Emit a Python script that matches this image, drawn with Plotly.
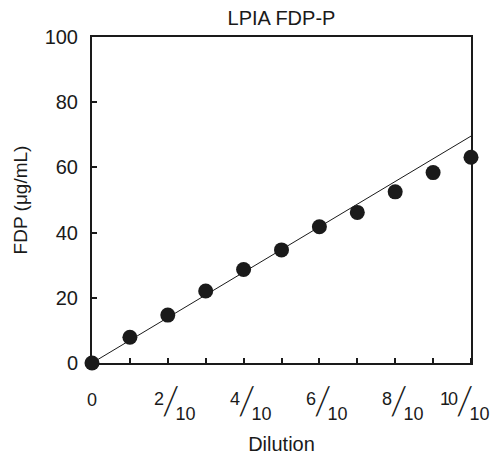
import plotly.graph_objects as go

x_vals = [0, 1, 2, 3, 4, 5, 6, 7, 8, 9, 10]
fdp_vals = [0, 7.9, 14.7, 22.1, 28.7, 34.7, 41.8, 46.2, 52.5, 58.4, 63.1]
fit_x = [0, 10]
fit_y = [0, 69.6]
x_tickvals = [0, 2, 4, 6, 8, 10]
x_numerators = ["0", "2", "4", "6", "8", "10"]
x_denominator = "10"
y_tickvals = [0, 20, 40, 60, 80, 100]

ink = "#1a1a1a"
fam = "Liberation Sans, Arial, sans-serif"

fig = go.Figure()
fig.add_trace(go.Scatter(x=fit_x, y=fit_y, mode="lines",
                         line=dict(color=ink, width=1), cliponaxis=False,
                         showlegend=False))
fig.add_trace(go.Scatter(x=x_vals, y=fdp_vals, mode="markers",
                         marker=dict(color=ink, size=15), cliponaxis=False,
                         showlegend=False))

def frac(num):
    return ("<sup><span style='font-size:18px;letter-spacing:-2px'>" + num + "</span></sup>"
            "<span style='font-family:Lato;font-weight:300;font-size:40px;letter-spacing:-4px'>/</span>"
            "<sub><span style='font-size:18px'>" + x_denominator + "</span></sub>")

anns = []
for tv, num in zip(x_tickvals, x_numerators):
    if num == "0":
        anns.append(dict(x=tv, y=0, xref="x", yref="paper", text=num, showarrow=False,
                         xanchor="center", yanchor="middle", yshift=-37,
                         font=dict(size=18, family=fam, color=ink)))
        continue
    xs = -7 if len(num) > 1 else 7
    anns.append(dict(x=tv, y=0, xref="x", yref="paper", text=frac(num), showarrow=False,
                     xanchor="center", yanchor="middle", xshift=xs, yshift=-37,
                     borderpad=0, font=dict(size=25, family=fam, color=ink)))

fig.update_layout(
    width=491, height=459,
    margin=dict(l=92, r=20, t=37, b=96),
    paper_bgcolor="white", plot_bgcolor="white",
    font=dict(size=18, family=fam, color=ink),
    annotations=anns,
    title=dict(text="LPIA FDP-P", x=(92 + 471) / 2 / 491, xanchor="center",
               y=1 - 18 / 459, yanchor="middle", font=dict(size=20, family=fam, color=ink)),
    xaxis=dict(range=[0, 10], tickvals=x_tickvals, showticklabels=False, automargin=False,
               showgrid=False, zeroline=False, showline=True, linecolor=ink,
               linewidth=2, mirror=True, ticks="",
               title=dict(text="Dilution", standoff=73, font=dict(size=20, family=fam, color=ink)),
               minor=dict(tickvals=x_vals, ticks="inside", ticklen=5, tickwidth=2,
                          tickcolor=ink)),
    yaxis=dict(range=[0, 100], tickvals=y_tickvals, showgrid=False, zeroline=False,
               automargin=False,
               showline=True, linecolor=ink, linewidth=2, mirror=True,
               ticks="inside", ticklen=5, tickwidth=2, tickcolor=ink,
               ticklabelstandoff=8, tickfont=dict(size=20, family=fam, color=ink),
               title=dict(text="FDP (μg/mL)", standoff=12, font=dict(size=19, family=fam, color=ink))),
)
fig.write_html("out.html")
